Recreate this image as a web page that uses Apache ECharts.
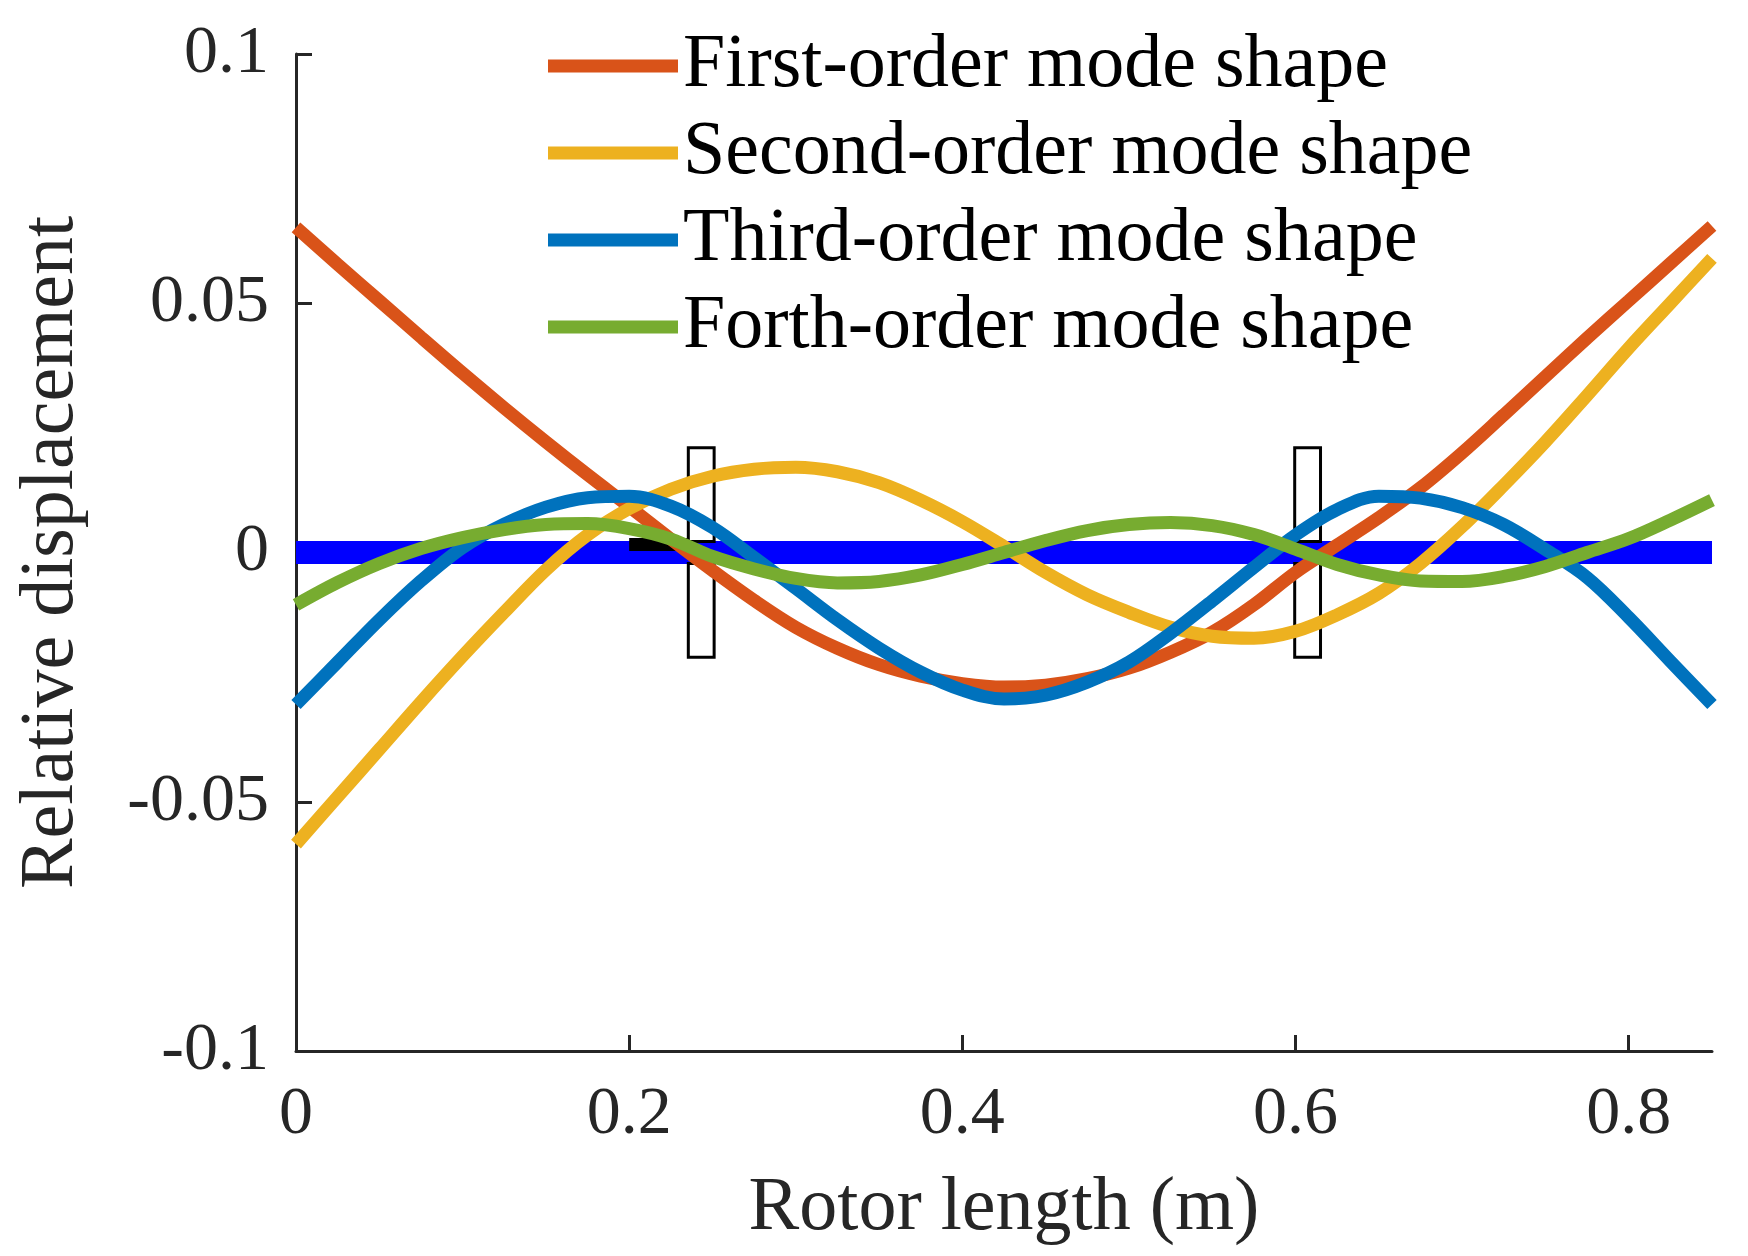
<!DOCTYPE html>
<html>
<head>
<meta charset="utf-8">
<script src="https://cdn.jsdelivr.net/npm/echarts@6/dist/echarts.min.js"></script>
<style>
  html, body { margin: 0; padding: 0; background: #fff; }
  #chart { width: 1748px; height: 1256px; }
</style>
</head>
<body>
<div id="chart"></div>
<script>
// ---- data ----
const xs = [0, 0.025, 0.05, 0.075, 0.1, 0.125, 0.15, 0.175, 0.2, 0.225, 0.25, 0.275, 0.3, 0.325, 0.35, 0.375,
            0.4, 0.425, 0.45, 0.475, 0.5, 0.525, 0.55, 0.575, 0.6, 0.625, 0.65, 0.675, 0.7, 0.725, 0.75, 0.775,
            0.8, 0.825, 0.85];

const firstMode = [0.0652, 0.0578, 0.0505, 0.0432, 0.0360, 0.0290, 0.0222, 0.0156, 0.0092, 0.0027, -0.0036, -0.0096,
                   -0.0150, -0.0192, -0.0225, -0.0248, -0.0263, -0.0270, -0.0266, -0.0253, -0.0232, -0.0200, -0.0160,
                   -0.0105, -0.0040, 0.0015, 0.0070, 0.0130, 0.0200, 0.0276, 0.0353, 0.0430, 0.0505, 0.0580, 0.0655];

const secondMode = [-0.0585, -0.0490, -0.0395, -0.0300, -0.0208, -0.0120, -0.0035, 0.0035, 0.0088, 0.0127, 0.0153,
                    0.0167, 0.0171, 0.0162, 0.0140, 0.0105, 0.0062, 0.0012, -0.0040, -0.0085, -0.0120, -0.0150,
                    -0.0168, -0.0172, -0.0158, -0.0125, -0.0082, -0.0022, 0.0052, 0.0135, 0.0222, 0.0315, 0.0410,
                    0.0500, 0.0590];

const thirdMode = [-0.0305, -0.0220, -0.0135, -0.0057, 0.0010, 0.0057, 0.0091, 0.0110, 0.0113, 0.0093, 0.0050,
                   -0.0010, -0.0072, -0.0135, -0.0192, -0.0240, -0.0276, -0.0294, -0.0286, -0.0260, -0.0220, -0.0162,
                   -0.0097, -0.0030, 0.0035, 0.0086, 0.0113, 0.0109, 0.0090, 0.0056, 0.0006, -0.0050, -0.0130,
                   -0.0218, -0.0305];

const fourthMode = [-0.0105, -0.0060, -0.0022, 0.0008, 0.0030, 0.0046, 0.0056, 0.0058, 0.0048, 0.0027, -0.0008,
                    -0.0033, -0.0052, -0.0061, -0.0058, -0.0045, -0.0024, 0.0000, 0.0024, 0.0044, 0.0056, 0.0060,
                    0.0054, 0.0036, 0.0007, -0.0024, -0.0045, -0.0057, -0.0058, -0.0048, -0.0028, 0.0000, 0.0028,
                    0.0065, 0.0105];

const seriesNames = ['First-order mode shape', 'Second-order mode shape', 'Third-order mode shape', 'Forth-order mode shape'];

// shaft (thick blue line at zero) and disks / small black block: [x0, y0, x1, y1, filled]
const shaftX = [0, 0.85];
const shaftY = [0, 0];
const diskRects = [
  [0.2355, 0.0022, 0.2510, 0.0210, 0],
  [0.2355, -0.0210, 0.2510, -0.0022, 0],
  [0.5995, 0.0022, 0.6150, 0.0210, 0],
  [0.5995, -0.0210, 0.6150, -0.0022, 0],
  [0.2000, 0.0003, 0.2360, 0.0029, 1]
];

const xTicks = [0, 0.2, 0.4, 0.6, 0.8];
const yTicks = [-0.1, -0.05, 0, 0.05, 0.1];

// ---- chart ----
const colors = ['#D95319', '#EDB120', '#0072BD', '#77AC30'];
const modes = [firstMode, secondMode, thirdMode, fourthMode];
const FONT = 'Liberation Serif';
const AXIS_COLOR = '#262626';

const chart = echarts.init(document.getElementById('chart'), null, { renderer: 'canvas' });

const curveSeries = modes.map((arr, i) => ({
  name: seriesNames[i],
  type: 'line',
  data: xs.map((x, k) => [x, arr[k]]),
  smooth: 0.35,
  showSymbol: false,
  symbol: 'none',
  color: colors[i],
  lineStyle: { color: colors[i], width: 13 },
  z: 4 + i,
  silent: true,
  animation: false
}));

const option = {
  animation: false,
  backgroundColor: '#ffffff',
  grid: { left: 296, right: 36, top: 54, bottom: 205, containLabel: false },
  legend: {
    data: seriesNames,
    orient: 'vertical',
    left: 548,
    top: 28,
    padding: 0,
    icon: 'rect',
    itemWidth: 130,
    itemHeight: 13,
    itemGap: 11,
    selectedMode: false,
    textStyle: { fontFamily: FONT, fontSize: 76, color: '#000', lineHeight: 76 }
  },
  xAxis: {
    type: 'value',
    min: 0,
    max: 0.85,
    name: 'Rotor length (m)',
    nameLocation: 'middle',
    nameGap: 120,
    nameTextStyle: { fontFamily: FONT, fontSize: 76, color: AXIS_COLOR },
    axisLine: { show: true, onZero: false, lineStyle: { color: AXIS_COLOR, width: 3 } },
    axisTick: { show: true, inside: true, length: 16, customValues: xTicks, lineStyle: { color: AXIS_COLOR, width: 3 } },
    axisLabel: {
      customValues: xTicks,
      fontFamily: FONT, fontSize: 68, color: AXIS_COLOR, margin: 30,
      formatter: v => String(+(+v).toFixed(2))
    },
    splitLine: { show: false }
  },
  yAxis: {
    type: 'value',
    min: -0.1,
    max: 0.1,
    name: 'Relative displacement',
    nameLocation: 'middle',
    nameGap: 206,
    nameTextStyle: { fontFamily: FONT, fontSize: 76, color: AXIS_COLOR },
    axisLine: { show: true, onZero: false, lineStyle: { color: AXIS_COLOR, width: 3 } },
    axisTick: { show: true, inside: true, length: 16, customValues: yTicks, lineStyle: { color: AXIS_COLOR, width: 3 } },
    axisLabel: {
      customValues: yTicks,
      fontFamily: FONT, fontSize: 68, color: AXIS_COLOR, margin: 27,
      formatter: v => String(+(+v).toFixed(2))
    },
    splitLine: { show: false }
  },
  series: [
    {
      name: 'shaft',
      type: 'line',
      data: shaftX.map((x, k) => [x, shaftY[k]]),
      showSymbol: false,
      symbol: 'none',
      lineStyle: { color: '#0000FF', width: 23, cap: 'butt' },
      z: 1,
      silent: true
    },
    {
      name: 'disks',
      type: 'custom',
      data: diskRects,
      encode: { x: [0, 2], y: [1, 3] },
      z: 2,
      silent: true,
      renderItem: function (params, api) {
        const p0 = api.coord([api.value(0), api.value(3)]);
        const p1 = api.coord([api.value(2), api.value(1)]);
        const filled = api.value(4) === 1;
        return {
          type: 'rect',
          shape: { x: p0[0], y: p0[1], width: p1[0] - p0[0], height: p1[1] - p0[1] },
          style: filled ? { fill: '#000', stroke: null } : { fill: 'none', stroke: '#000', lineWidth: 3 }
        };
      }
    }
  ].concat(curveSeries)
};

chart.setOption(option);
</script>
</body>
</html>
